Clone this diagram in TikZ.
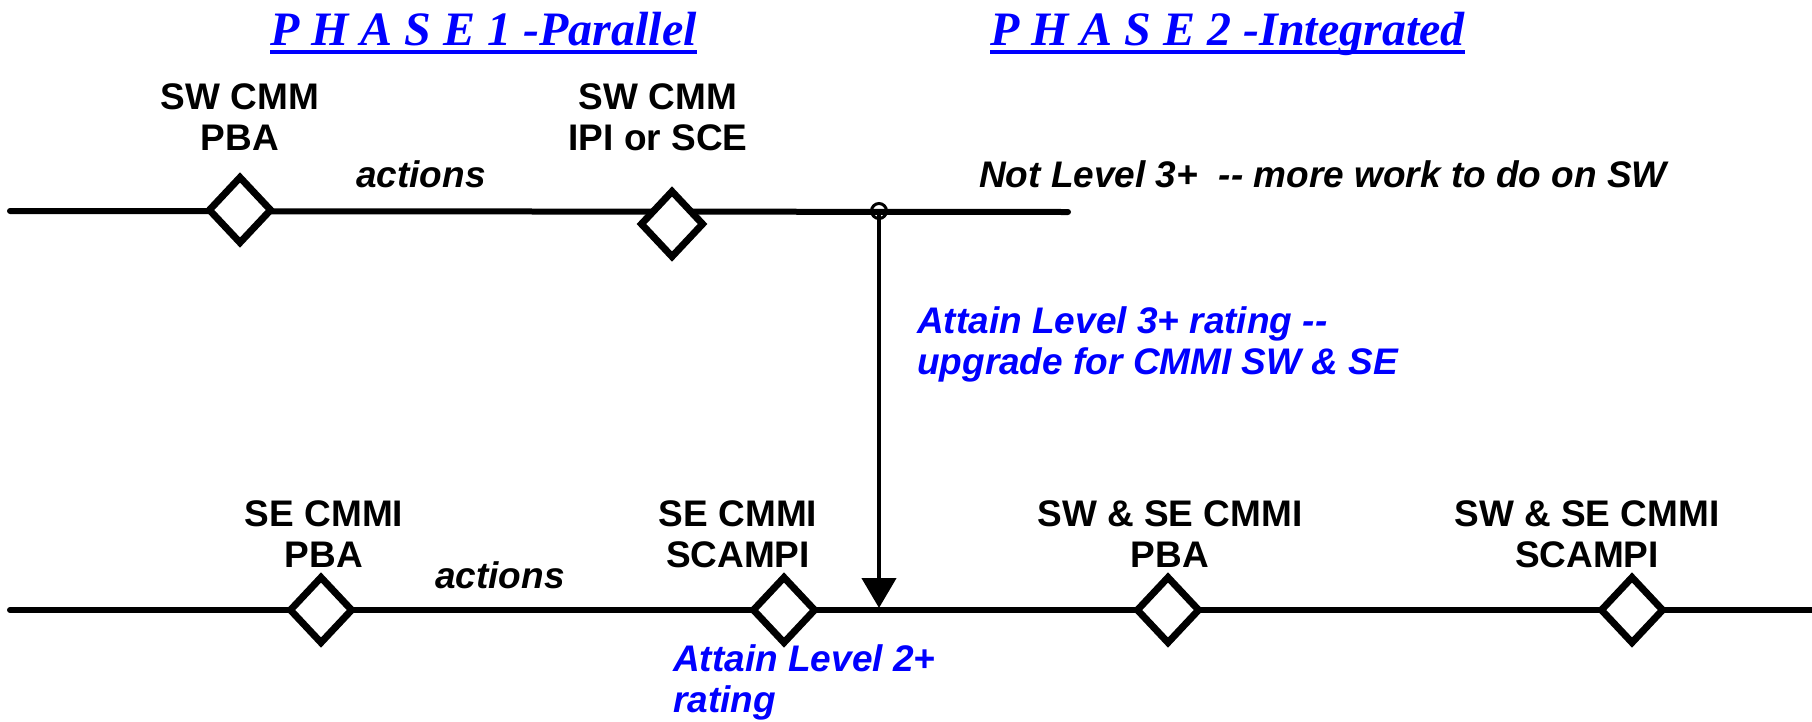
\documentclass[tikz,border=0pt]{standalone}
\usepackage{fontspec}
\setmainfont{Liberation Sans}
\newfontfamily\timesf{Liberation Serif}
\usetikzlibrary{shapes.geometric,arrows.meta}
\definecolor{pblue}{RGB}{0,0,255}
\begin{document}
\begin{tikzpicture}[x=1pt,y=-1pt,
  tline/.style={line width=6pt,line cap=round},
  ms/.style={diamond,draw,line width=7pt,fill=white,inner sep=0pt,minimum width=64pt,minimum height=68pt},
  lbl/.style={font=\fontsize{37}{41}\selectfont\bfseries,align=center,inner sep=0pt,anchor=base},
  act/.style={font=\fontsize{37}{41}\selectfont\bfseries\itshape,inner sep=0pt,anchor=base},
  blu/.style={act,text=pblue,align=left,anchor=base west},
  ttl/.style={font=\fontsize{48}{52}\selectfont\timesf\bfseries\itshape,text=pblue,inner sep=0pt,anchor=base west}]
\useasboundingbox (0,0) rectangle (1812,721);

% time lines
\coordinate (tl) at (10,211);
\coordinate (tr) at (1068,212);
\coordinate (bl) at (10,610);
\coordinate (br) at (1816,610);
\draw[tline] (tl) -- (tr);
\draw[tline] (bl) -- (br);

% junction and arrow
\node[circle,draw,line width=3pt,inner sep=0pt,minimum size=15pt] (jc) at (879,211) {};
\coordinate (ae) at (879,608);
\draw[line width=4.5pt,-{Triangle[width=34pt,length=30pt]}] (jc.center) -- (ae);

% milestones
\node[ms] (d1) at (240,210) {};
\node[ms] (d2) at (672,224) {};
\node[ms] (e1) at (321,610) {};
\node[ms] (e2) at (784,610) {};
\node[ms] (e3) at (1168,610) {};
\node[ms] (e4) at (1632,610) {};

% titles
\node[ttl] (t1) at (270,45) {P H A S E 1 -Parallel};
\node[ttl] (t2) at (990,45) {P H A S E 2 -Integrated};
\draw[pblue,line width=4pt] ([yshift=-7pt]t1.base west) -- ([yshift=-7pt]t1.base east);
\draw[pblue,line width=4pt] ([yshift=-7pt]t2.base west) -- ([yshift=-7pt]t2.base east);

% labels top (anchor = baseline of last line)
\node[lbl] (l1) at (240,150) {SW CMM\\PBA};
\node[lbl] (l2) at (658,150) {SW CMM\\IPI or SCE};
\node[act] (a1) at (421,187) {actions};
\node[act,anchor=base west] (nl) at (979,187) {Not Level 3+\ \ {-}{-} more work to do on SW};
\node[blu] (b1) at (917,374) {Attain Level 3+ rating {-}{-}\\upgrade for CMMI SW \& SE};

% labels bottom
\node[lbl] (m1) at (324,567) {SE CMMI\\PBA};
\node[lbl] (m2) at (738,567) {SE CMMI\\SCAMPI};
\node[lbl] (m3) at (1170,567) {SW \& SE CMMI\\PBA};
\node[lbl] (m4) at (1587,567) {SW \& SE CMMI\\SCAMPI};
\node[act] (a2) at (500,588) {actions};
\node[blu] (b2) at (673,712) {Attain Level 2+\\rating};
\end{tikzpicture}
\end{document}
